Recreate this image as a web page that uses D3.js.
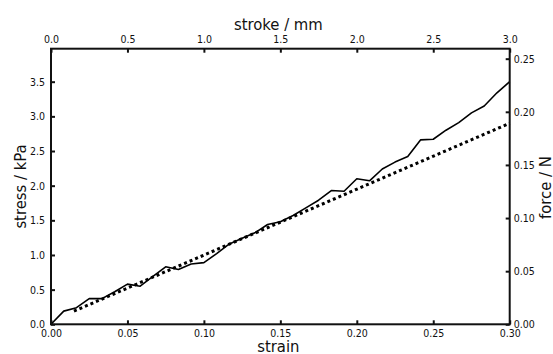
<!DOCTYPE html>
<html>
<head>
<meta charset="utf-8">
<script src="https://cdn.jsdelivr.net/npm/d3@7"></script>
<style>
  body { margin: 0; background: #fff; }
  text { font-family: "DejaVu Sans Condensed", "DejaVu Sans", sans-serif; font-stretch: condensed; fill: #111; }
</style>
</head>
<body>
<div id="chart"></div>
<script>
// measured curve, one sample every 1/120 strain
const strain = d3.range(37).map(k => k / 120);
const stress = [0, 0.19, 0.24, 0.37, 0.37, 0.47, 0.58, 0.55, 0.69, 0.83,
  0.79, 0.87, 0.89, 1.02, 1.16, 1.24, 1.32, 1.44, 1.48, 1.57,
  1.68, 1.79, 1.93, 1.92, 2.10, 2.07, 2.24, 2.34, 2.42, 2.66,
  2.67, 2.80, 2.91, 3.05, 3.15, 3.34, 3.50];

// linear fit (dotted)
const fitStrain = [0.015, 0.30];
const fitStress = [0.19, 2.90];

const strainTicks = [0, 0.05, 0.10, 0.15, 0.20, 0.25, 0.30];
const strokeTicks = [0, 0.5, 1.0, 1.5, 2.0, 2.5, 3.0];
const stressTicks = [0, 0.5, 1.0, 1.5, 2.0, 2.5, 3.0, 3.5];
const forceTicks = [0, 0.05, 0.10, 0.15, 0.20, 0.25];

const width = 553, height = 354;
const margin = {top: 48.7, right: 43.3, bottom: 29.7, left: 51};

const svg = d3.select("#chart").append("svg")
    .attr("width", width)
    .attr("height", height);

const x = d3.scaleLinear().domain([0, 0.30]).range([margin.left, width - margin.right]);
const x2 = d3.scaleLinear().domain([0, 3.0]).range([margin.left, width - margin.right]);
const y = d3.scaleLinear().domain([0, 3.976]).range([height - margin.bottom, margin.top]);
const y2 = d3.scaleLinear().domain([0, 0.2594]).range([height - margin.bottom, margin.top]);

function style(g) {
  g.select(".domain").remove();
  g.selectAll(".tick line").attr("stroke", "#111").attr("stroke-width", 2);
  g.selectAll(".tick text").attr("font-size", 10.5).attr("fill", "#111")
    .attr("font-family", null);
}

svg.append("g")
    .attr("transform", `translate(0,${height - margin.bottom})`)
    .call(d3.axisBottom(x).tickValues(strainTicks).tickFormat(d3.format(".2f"))
      .tickSizeInner(-4).tickSizeOuter(0).tickPadding(5))
    .call(style);

svg.append("g")
    .attr("transform", `translate(0,${margin.top})`)
    .call(d3.axisTop(x2).tickValues(strokeTicks).tickFormat(d3.format(".1f"))
      .tickSizeInner(-4).tickSizeOuter(0).tickPadding(5.4))
    .call(style);

svg.append("g")
    .attr("transform", `translate(${margin.left},0)`)
    .call(d3.axisLeft(y).tickValues(stressTicks).tickFormat(d3.format(".1f"))
      .tickSizeInner(-4).tickSizeOuter(0).tickPadding(6))
    .call(style);

svg.append("g")
    .attr("transform", `translate(${width - margin.right},0)`)
    .call(d3.axisRight(y2).tickValues(forceTicks).tickFormat(d3.format(".2f"))
      .tickSizeInner(-4).tickSizeOuter(0).tickPadding(4))
    .call(style);

const line = d3.line().x(d => x(d[0])).y(d => y(d[1]));

svg.append("path")
    .datum(d3.zip(fitStrain, fitStress))
    .attr("fill", "none")
    .attr("stroke", "#000")
    .attr("stroke-width", 3)
    .attr("stroke-dasharray", "3,3")
    .attr("d", line);

svg.append("path")
    .datum(d3.zip(strain, stress))
    .attr("fill", "none")
    .attr("stroke", "#000")
    .attr("stroke-width", 1.6)
    .attr("stroke-linejoin", "round")
    .attr("d", line);

// frame
svg.append("rect")
    .attr("x", margin.left)
    .attr("y", margin.top)
    .attr("width", width - margin.left - margin.right)
    .attr("height", height - margin.top - margin.bottom)
    .attr("fill", "none")
    .attr("stroke", "#111")
    .attr("stroke-width", 2);

// axis labels
const midX = (margin.left + width - margin.right) / 2 - 2;
const midY = (margin.top + height - margin.bottom) / 2;

svg.append("text").attr("x", midX).attr("y", 351.5)
    .attr("text-anchor", "middle").attr("font-size", 16.5).text("strain");
svg.append("text").attr("x", midX).attr("y", 30)
    .attr("text-anchor", "middle").attr("font-size", 16.5).text("stroke / mm");
svg.append("text")
    .attr("transform", `translate(25.5,${midY}) rotate(-90)`)
    .attr("text-anchor", "middle").attr("font-size", 16.5).text("stress / kPa");
svg.append("text")
    .attr("transform", `translate(550.5,${midY + 1}) rotate(-90)`)
    .attr("text-anchor", "middle").attr("font-size", 16.5).text("force / N");
</script>
</body>
</html>
